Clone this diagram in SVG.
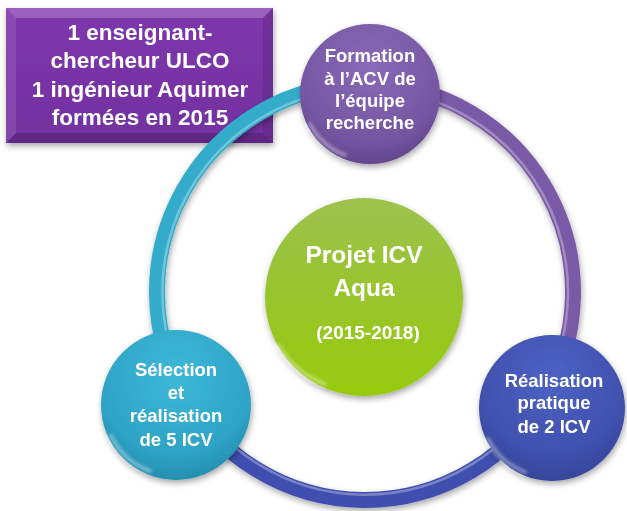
<svg xmlns="http://www.w3.org/2000/svg" width="627" height="511" viewBox="0 0 627 511">
<style>
  .lbl { font-family: "Liberation Sans", Arial, sans-serif; font-weight: bold; fill: #ffffff; text-anchor: middle; }
  .node { font-size: 18.5px; }
  .boxt { font-size: 22.5px; }
  .arc { fill: none; stroke-width: 16; stroke-linecap: butt; }
  .shine { fill: none; stroke: #ffffff; stroke-width: 2.5; stroke-opacity: 0.3; }
  .rim { fill: none; stroke: #ffffff; stroke-width: 4; stroke-opacity: 0.35; stroke-linecap: round; filter: url(#soft); }
</style>
<defs>
  <filter id="sh" x="-20%" y="-20%" width="140%" height="140%">
    <feGaussianBlur in="SourceAlpha" stdDeviation="3"/>
    <feOffset dx="1" dy="3" result="b"/>
    <feComponentTransfer><feFuncA type="linear" slope="0.35"/></feComponentTransfer>
    <feMerge><feMergeNode/><feMergeNode in="SourceGraphic"/></feMerge>
  </filter>
  <filter id="soft" x="-30%" y="-30%" width="160%" height="160%">
    <feGaussianBlur stdDeviation="1.5"/>
  </filter>
  <radialGradient id="gPurple" cx="50%" cy="30%" r="75%">
    <stop offset="0" stop-color="#8A69B6"/>
    <stop offset="0.7" stop-color="#7656A3"/>
    <stop offset="1" stop-color="#5F4288"/>
  </radialGradient>
  <radialGradient id="gBlue" cx="50%" cy="30%" r="75%">
    <stop offset="0" stop-color="#4E62C4"/>
    <stop offset="0.7" stop-color="#3F50AE"/>
    <stop offset="1" stop-color="#334293"/>
  </radialGradient>
  <radialGradient id="gTeal" cx="50%" cy="30%" r="75%">
    <stop offset="0" stop-color="#3EB8D8"/>
    <stop offset="0.7" stop-color="#2EA3C6"/>
    <stop offset="1" stop-color="#2289A8"/>
  </radialGradient>
  <linearGradient id="gGreen" x1="0" y1="0" x2="0" y2="1">
    <stop offset="0" stop-color="#9DC24E"/>
    <stop offset="0.5" stop-color="#98C52C"/>
    <stop offset="1" stop-color="#97CA0E"/>
  </linearGradient>
  <linearGradient id="gBox" x1="0" y1="0" x2="0" y2="1">
    <stop offset="0" stop-color="#7E36AC"/>
    <stop offset="1" stop-color="#7331A0"/>
  </linearGradient>
</defs>

<g id="box" filter="url(#sh)">
  <rect x="6" y="8" width="267" height="135" fill="url(#gBox)"/>
  <polygon points="6,8 273,8 263,18 16,18" fill="#ffffff" fill-opacity="0.22"/>
  <polygon points="6,8 16,18 16,133 6,143" fill="#ffffff" fill-opacity="0.1"/>
  <polygon points="273,8 273,143 263,133 263,18" fill="#000000" fill-opacity="0.1"/>
  <polygon points="6,143 16,133 263,133 273,143" fill="#000000" fill-opacity="0.18"/>
  <text class="lbl boxt" x="140" y="40">1 enseignant-</text>
  <text class="lbl boxt" x="140" y="68">chercheur ULCO</text>
  <text class="lbl boxt" x="140" y="97">1 ingénieur Aquimer</text>
  <text class="lbl boxt" x="140" y="125">formées en 2015</text>
</g>

<g id="connectors" filter="url(#sh)">
  <path class="arc" stroke="#34ABCB" d="M186.7,399.1 A208,208 0 0 1 365,84"/>
  <path class="shine" d="M190.1,394.4 A203,203 0 0 1 365,89"/>
  <path class="arc" stroke="#7A5AA7" d="M365,84 A208,208 0 0 1 541.4,402.2"/>
  <path class="shine" d="M365,89 A203,203 0 0 1 537.1,399.6"/>
  <path class="arc" stroke="#3F4FAF" d="M541.4,402.2 A208,208 0 0 1 186.7,399.1"/>
  <path class="shine" d="M537.1,399.6 A203,203 0 0 1 190.1,394.4"/>
</g>

<g id="node-center" filter="url(#sh)">
  <circle cx="364" cy="297" r="99" fill="url(#gGreen)"/>
  <path class="rim" d="M278,345 A94,94 0 0 0 325,384"/>
  <text class="lbl" x="364" y="263" font-size="24.5">Projet ICV</text>
  <text class="lbl" x="364" y="296" font-size="24.5">Aqua</text>
  <text class="lbl" x="368" y="339" font-size="19">(2015-2018)</text>
</g>

<g id="node-top" filter="url(#sh)">
  <circle cx="370" cy="94" r="70" fill="url(#gPurple)"/>
  <path class="rim" d="M310,124 A66,66 0 0 0 345,155"/>
  <text class="lbl node" x="370" y="62">Formation</text>
  <text class="lbl node" x="370" y="84.5">à l’ACV de</text>
  <text class="lbl node" x="370" y="107">l’équipe</text>
  <text class="lbl node" x="370" y="129">recherche</text>
</g>

<g id="node-left" filter="url(#sh)">
  <circle cx="176" cy="405" r="75" fill="url(#gTeal)"/>
  <path class="rim" d="M111,436 A71,71 0 0 0 150,471"/>
  <text class="lbl node" x="176" y="376">Sélection</text>
  <text class="lbl node" x="176" y="399">et</text>
  <text class="lbl node" x="176" y="422">réalisation</text>
  <text class="lbl node" x="176" y="446">de 5 ICV</text>
</g>

<g id="node-right" filter="url(#sh)">
  <circle cx="552" cy="408" r="73" fill="url(#gBlue)"/>
  <path class="rim" d="M488,439 A69,69 0 0 0 525,472"/>
  <text class="lbl node" x="554" y="387">Réalisation</text>
  <text class="lbl node" x="554" y="409">pratique</text>
  <text class="lbl node" x="554" y="433">de 2 ICV</text>
</g>
</svg>
